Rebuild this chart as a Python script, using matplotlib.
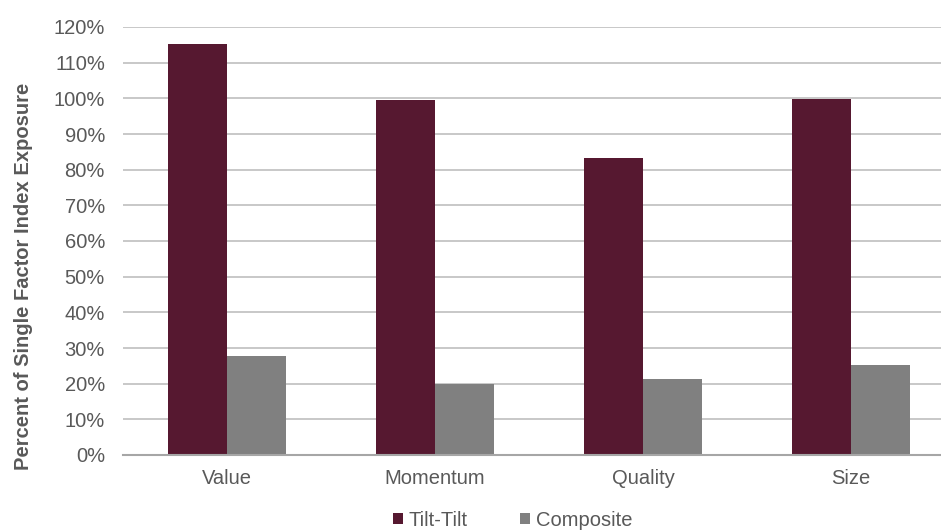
import matplotlib.pyplot as plt
import numpy as np
from matplotlib.ticker import MultipleLocator, FuncFormatter

plt.rcParams['font.family'] = ['Liberation Sans', 'DejaVu Sans']

# Factor exposure relative to single factor index
factors = ['Value', 'Momentum', 'Quality', 'Size']
tilt_tilt = [115.3, 99.6, 83.4, 99.7]
composite = [27.8, 19.9, 21.2, 25.3]

tilt_color = '#561830'
comp_color = '#808080'
text_color = '#595959'

fig = plt.figure(figsize=(9.41, 5.30), dpi=100)
# plot area runs a little past the right edge, so the grid lines reach the border
ax = fig.add_axes([123 / 941, 1 - 455 / 530, 832 / 941, (455 - 27) / 530])

x = np.arange(len(factors))
w = 0.285
ax.bar(x - w / 2, tilt_tilt, w, color=tilt_color, label='Tilt-Tilt', zorder=3)
ax.bar(x + w / 2, composite, w, color=comp_color, label='Composite', zorder=3)

ax.set_xlim(-0.5, len(factors) - 0.5)
ax.set_ylim(0, 120)
ax.yaxis.set_major_locator(MultipleLocator(10))
ax.yaxis.set_major_formatter(FuncFormatter(lambda v, _: f'{v:.0f}%'))
ax.grid(axis='y', color='#BFBFBF', linewidth=1.2, zorder=0)

ax.set_xticks(x)
ax.set_xticklabels(factors)
ax.tick_params(axis='both', length=0, labelsize=14.5, labelcolor=text_color)
ax.tick_params(axis='x', pad=10)
ax.tick_params(axis='y', pad=13)

for side in ['top', 'right', 'left']:
    ax.spines[side].set_visible(False)
ax.spines['bottom'].set_color('#A6A6A6')
ax.spines['bottom'].set_linewidth(1.5)
ax.spines['bottom'].set_zorder(4)

ax.set_ylabel('Percent of Single Factor Index Exposure', fontsize=14.5,
              fontweight='bold', color=text_color)
ax.yaxis.set_label_coords(-0.108, 0.418)

fig.legend(loc='center', bbox_to_anchor=(0.545, 1 - 520 / 530), ncol=2,
           frameon=False, fontsize=14.5, labelcolor=text_color,
           handlelength=0.5, handleheight=0.5, handletextpad=0.3,
           columnspacing=2.6)

fig.savefig('out.png', dpi=100)
